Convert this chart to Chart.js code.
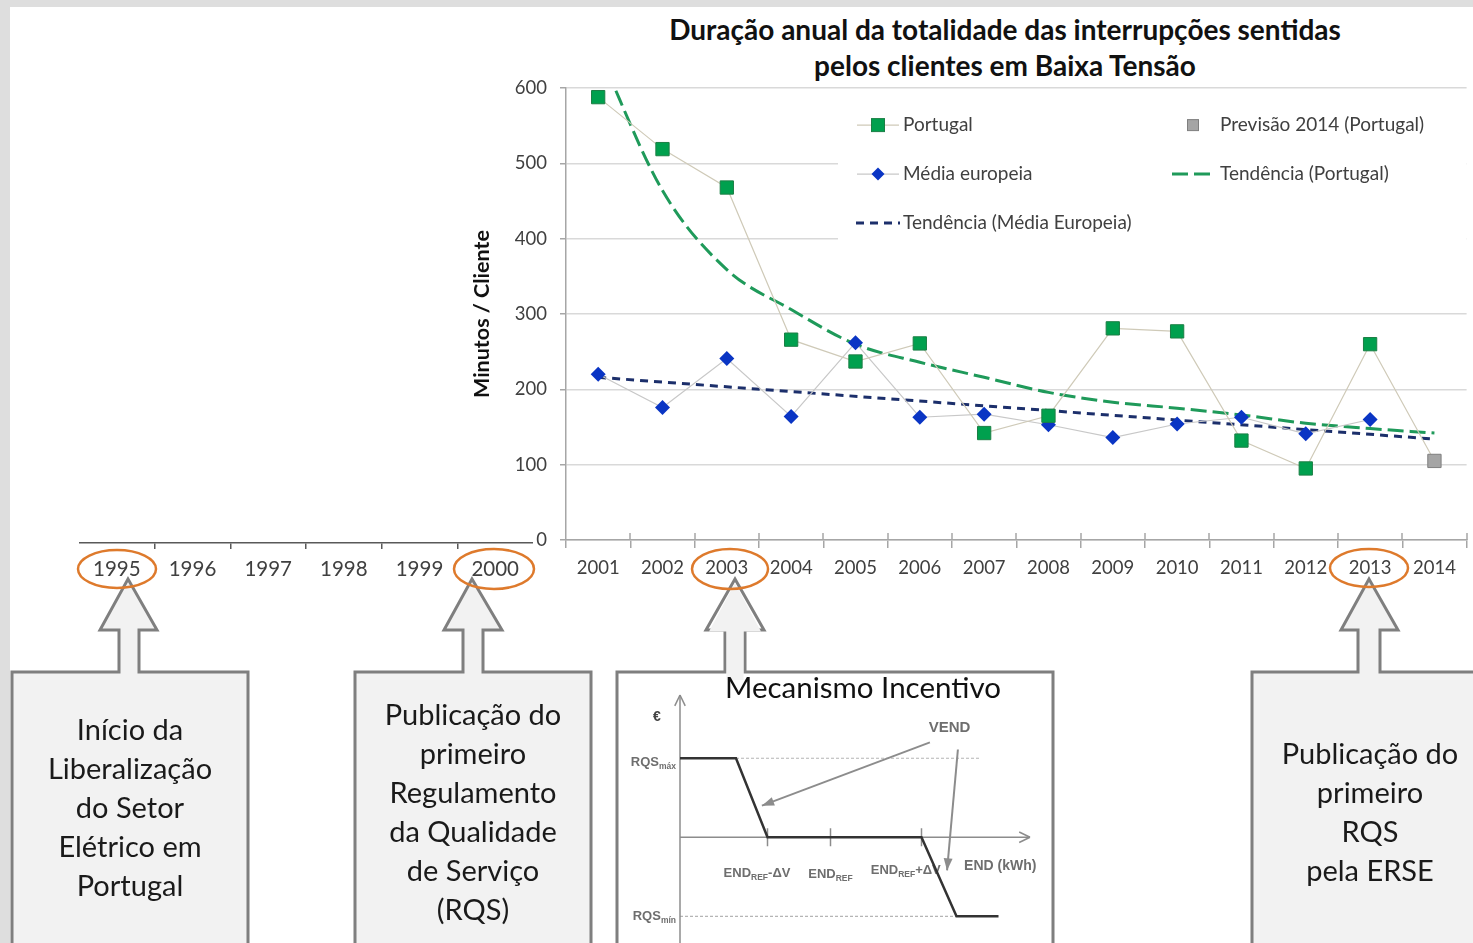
<!DOCTYPE html>
<html>
<head>
<meta charset="utf-8">
<script src="https://cdn.jsdelivr.net/npm/chart.js@4.4.1/dist/chart.umd.min.js"></script>
<style>
  html, body { margin: 0; padding: 0; }
  body { width: 1473px; height: 943px; background: #dedede; position: relative; overflow: hidden; font-family: Lato, "Open Sans", sans-serif; }
  #panel { position: absolute; left: 10px; top: 7px; right: 0; bottom: 0; background: #fff; }
  canvas, svg { position: absolute; }
  .title { position: absolute; left: 605px; top: 11px; width: 800px; text-align: center; font-weight: bold; font-size: 28px; line-height: 36px; color: #111; }
  .boxText { position: absolute; text-align: center; font-size: 29px; line-height: 39px; color: #1a1a1a; }
  .boxTitle { position: absolute; left: 630px; top: 669px; width: 466px; text-align: center; font-size: 29.5px; line-height: 36px; color: #111; }
</style>
</head>
<body>
<div id="panel"></div>

<svg id="callouts" width="1473" height="943" style="left:0;top:0"></svg>

<div class="title">Duração anual da totalidade das interrupções sentidas<br>pelos clientes em Baixa Tensão</div>

<canvas id="mainChart" width="1017" height="536" style="left:460px;top:64px"></canvas>
<canvas id="timelineChart" width="454" height="100" style="left:79px;top:500px"></canvas>
<canvas id="incentiveChart" width="430" height="269" style="left:620px;top:674px"></canvas>

<svg id="marks" width="1473" height="943" style="left:0;top:0;pointer-events:none"></svg>

<div class="boxText" style="left:12px;top:709px;width:236px">Início da<br>Liberalização<br>do Setor<br>Elétrico em<br>Portugal</div>
<div class="boxText" style="left:355px;top:694px;width:236px">Publicação do<br>primeiro<br>Regulamento<br>da Qualidade<br>de Serviço<br>(RQS)</div>
<div class="boxTitle">Mecanismo Incentivo</div>
<div class="boxText" style="left:1252px;top:733px;width:236px">Publicação do<br>primeiro<br>RQS<br>pela ERSE</div>

<script>
// ---- data ----
const years = ['2001', '2002', '2003', '2004', '2005', '2006', '2007', '2008', '2009', '2010', '2011', '2012', '2013', '2014'];
const portugal = [588, 519, 468, 266, 237, 261, 142, 165, 281, 277, 132, 95, 260];
const previsao2014 = 105;
const mediaEuropeia = [220, 176, 241, 164, 262, 163, 167, 153, 136, 154, 163, 141, 160, null];
const tendenciaPortugal = [650, 464, 359, 306, 260, 236, 216, 196, 183, 175, 166, 155, 148, 142];
const tendenciaEuropa = [216, null, null, null, null, null, null, null, null, null, null, null, null, 134];
const yTicks = [0, 100, 200, 300, 400, 500, 600];

const timelineYears = ['1995', '1996', '1997', '1998', '1999', '2000'];

// incentive mechanism sketch (diagram units)
const incentiveX = [0, 16, 25, 69, 79, 91];
const incentiveY = [1, 1, 0, 0, -1, -1];
const incentiveTicks = [25, 43, 69];
const rqsMaxGuide = [16, 86];
const rqsMinGuide = [0, 79];

const GREEN = '#00a04e';
const BLUE = '#0a35c4';
const FONT = 'Lato, "Open Sans", sans-serif';
const SKETCH_FONT = '"Liberation Sans", Arial, sans-serif';

// ---- callout boxes with block arrows ----
function calloutPath(l, r, top, bottom, sl, sr, hl, hr, hb, tx, ty) {
  return `M${l},${bottom} L${l},${top} L${sl},${top} L${sl},${hb} L${hl},${hb} L${tx},${ty} L${hr},${hb} L${sr},${hb} L${sr},${top} L${r},${top} L${r},${bottom}`;
}
const callouts = [
  { l: 12, r: 248, sl: 119, sr: 139, hl: 100, hr: 157, tx: 128, fill: '#f2f2f2' },
  { l: 355, r: 591, sl: 463, sr: 483, hl: 444, hr: 502, tx: 472, fill: '#f2f2f2' },
  { l: 617, r: 1053, sl: 725, sr: 745, hl: 706, hr: 764, tx: 735, fill: '#ffffff' },
  { l: 1252, r: 1490, sl: 1358, sr: 1380, hl: 1341, hr: 1398, tx: 1369, fill: '#f2f2f2' }
];
let svg = '';
callouts.forEach(c => {
  svg += `<path d="${calloutPath(c.l, c.r, 672, 965, c.sl, c.sr, c.hl, c.hr, 630, c.tx, 579)}" fill="${c.fill}" stroke="#7f7f7f" stroke-width="3" stroke-linejoin="miter"/>`;
  if (c.fill !== '#f2f2f2') {
    svg += `<path d="M${c.sl + 1.5},680 L${c.sl + 1.5},${631.5} L${c.hl + 3},${631.5} L${c.tx},${583} L${c.hr - 3},${631.5} L${c.sr - 1.5},${631.5} L${c.sr - 1.5},680 Z" fill="#f2f2f2"/>`;
  }
});
document.getElementById('callouts').innerHTML = svg;

// orange ellipses round the highlighted years
const highlights = [[117, 569, 39, 19], [494, 569, 40, 20], [730, 569, 38, 20], [1369, 568, 39, 19]];
document.getElementById('marks').innerHTML = highlights.map(h =>
  `<ellipse cx="${h[0]}" cy="${h[1]}" rx="${h[2]}" ry="${h[3]}" fill="none" stroke="#de7a2c" stroke-width="2.5"/>`).join('');

// ---- main chart ----
const legendPlugin = {
  id: 'sideLegend',
  beforeDatasetsDraw(chart) {
    const { ctx, chartArea } = chart;
    ctx.save();
    ctx.fillStyle = '#fff';
    ctx.fillRect(chartArea.left + 272, chartArea.top + 9, chartArea.width - 272, 150);
    ctx.restore();
  },
  afterDraw(chart) {
    const { ctx, chartArea, scales } = chart;
    const L = chartArea.left, T = chartArea.top;
    ctx.save();

    // short tick stubs above the category axis
    const xs = scales.x, step = xs.width / years.length;
    ctx.strokeStyle = '#a6a6a6';
    ctx.lineWidth = 1.5;
    for (let i = 1; i <= years.length; i++) {
      const px = Math.round(xs.left + i * step);
      ctx.beginPath(); ctx.moveTo(px, xs.top - 7); ctx.lineTo(px, xs.top); ctx.stroke();
    }

    ctx.font = '19px ' + FONT;
    ctx.fillStyle = '#404040';
    ctx.textBaseline = 'middle';

    function seg(x1, x2, y, color, width, dash) {
      ctx.save();
      ctx.strokeStyle = color; ctx.lineWidth = width; ctx.setLineDash(dash || []);
      ctx.beginPath(); ctx.moveTo(x1, y); ctx.lineTo(x2, y); ctx.stroke();
      ctx.restore();
    }
    function square(x, y, s, fill, stroke) {
      ctx.fillStyle = fill; ctx.fillRect(x - s / 2, y - s / 2, s, s);
      ctx.strokeStyle = stroke; ctx.lineWidth = 1; ctx.strokeRect(x - s / 2, y - s / 2, s, s);
    }
    function diamond(x, y, r, fill) {
      ctx.fillStyle = fill;
      ctx.beginPath(); ctx.moveTo(x - r, y); ctx.lineTo(x, y - r); ctx.lineTo(x + r, y); ctx.lineTo(x, y + r); ctx.closePath(); ctx.fill();
    }

    const c1 = L + 312, c2 = L + 627;
    const r1 = T + 37, r2 = T + 86, r3 = T + 135;

    seg(c1 - 21, c1 + 21, r1, '#cfcab8', 1.2);
    square(c1, r1, 13, GREEN, '#1b7f45');
    ctx.fillStyle = '#404040'; ctx.fillText('Portugal', L + 337, r1);

    square(c2, r1, 11, '#a5a5a5', '#7f7f7f');
    ctx.fillStyle = '#404040'; ctx.fillText('Previsão 2014 (Portugal)', L + 654, r1);

    seg(c1 - 21, c1 + 21, r2, '#c8c8c8', 1.2);
    diamond(c1, r2, 6.5, BLUE);
    ctx.fillStyle = '#404040'; ctx.fillText('Média europeia', L + 337, r2);

    seg(L + 606, L + 650, r2, '#1f9a5a', 3, [16, 6]);
    ctx.fillStyle = '#404040'; ctx.fillText('Tendência (Portugal)', L + 654, r2);

    seg(L + 290, L + 334, r3, '#1c2f6b', 3, [8, 6]);
    ctx.fillStyle = '#404040'; ctx.fillText('Tendência (Média Europeia)', L + 337, r3);

    ctx.restore();
  }
};

const lastIdx = portugal.length;

new Chart(document.getElementById('mainChart'), {
  type: 'line',
  data: {
    labels: years,
    datasets: [
      {
        label: 'Portugal',
        data: [...portugal, previsao2014],
        borderColor: '#cfcab8',
        borderWidth: 1.2,
        pointStyle: 'rect',
        pointRadius: 9.4,
        pointBackgroundColor: ctx => ctx.dataIndex === lastIdx ? '#a5a5a5' : GREEN,
        pointBorderColor: ctx => ctx.dataIndex === lastIdx ? '#7f7f7f' : '#1b7f45',
        pointBorderWidth: 1,
        order: 1,
        clip: false
      },
      {
        label: 'Média europeia',
        data: mediaEuropeia,
        borderColor: '#c8c8c8',
        borderWidth: 1.2,
        pointStyle: 'rectRot',
        pointRadius: 7.5,
        pointBackgroundColor: BLUE,
        pointBorderColor: BLUE,
        pointBorderWidth: 0,
        order: 1,
        clip: false
      },
      {
        label: 'Tendência (Portugal)',
        data: tendenciaPortugal,
        borderColor: '#1f9a5a',
        borderWidth: 3,
        borderDash: [16, 6],
        pointRadius: 0,
        cubicInterpolationMode: 'monotone',
        order: 2,
        clip: 0
      },
      {
        label: 'Tendência (Média Europeia)',
        data: tendenciaEuropa,
        borderColor: '#1c2f6b',
        borderWidth: 3,
        borderDash: [8, 6],
        pointRadius: 0,
        spanGaps: true,
        order: 2,
        clip: 0
      }
    ]
  },
  options: {
    responsive: false,
    animation: false,
    events: [],
    layout: { padding: { top: 7, right: 3, left: 0, bottom: 0 } },
    plugins: {
      legend: { display: false },
      tooltip: { enabled: false }
    },
    scales: {
      x: {
        offset: true,
        grid: { offset: true, drawOnChartArea: false, tickLength: 8, color: '#a6a6a6', lineWidth: 1.5 },
        border: { color: '#a6a6a6', width: 1.5 },
        ticks: { color: '#404040', font: { family: FONT, size: 18.5 }, padding: 9, maxRotation: 0, autoSkip: false },
        afterFit(scale) { scale.height = 60; }
      },
      y: {
        min: 0,
        max: 600,
        afterBuildTicks(scale) { scale.ticks = yTicks.map(v => ({ value: v })); },
        grid: { color: '#d9d9d9', lineWidth: 1.5, tickLength: 6, tickColor: '#a6a6a6' },
        border: { color: '#a6a6a6', width: 1.5 },
        ticks: { color: '#404040', font: { family: FONT, size: 18.5 }, padding: 13 },
        title: { display: true, text: 'Minutos / Cliente', color: '#111', font: { family: FONT, size: 21.5, weight: 'bold' }, padding: { top: 9, bottom: 0 } },
        afterFit(scale) { scale.width = 106; }
      }
    }
  },
  plugins: [legendPlugin]
});

// ---- 1995-2000 timeline ----
new Chart(document.getElementById('timelineChart'), {
  type: 'line',
  data: { labels: timelineYears, datasets: [] },
  options: {
    responsive: false,
    animation: false,
    events: [],
    layout: { padding: 0 },
    plugins: { legend: { display: false }, tooltip: { enabled: false } },
    scales: {
      x: {
        offset: true,
        grid: {
          offset: true, drawOnChartArea: false, tickLength: 6, lineWidth: 1.5,
          tickColor: c => (c.index > 0 && c.index < timelineYears.length) ? '#595959' : 'rgba(0,0,0,0)'
        },
        border: { color: '#595959', width: 1.5 },
        ticks: { color: '#404040', font: { family: FONT, size: 20.5 }, padding: 8, maxRotation: 0, autoSkip: false },
        afterFit(scale) { scale.height = 57; }
      },
      y: { display: false }
    }
  }
});

// ---- incentive mechanism sketch ----
const sketchPlugin = {
  id: 'sketch',
  beforeDatasetsDraw(chart) {
    const { ctx, scales: { x, y } } = chart;
    const px = v => x.getPixelForValue(v), py = v => y.getPixelForValue(v);
    ctx.save();

    function line(x1, y1, x2, y2) { ctx.beginPath(); ctx.moveTo(x1, y1); ctx.lineTo(x2, y2); ctx.stroke(); }
    function chevron(xt, yt, ang) {
      const a = 0.45, len = 12;
      line(xt, yt, xt - len * Math.cos(ang - a), yt - len * Math.sin(ang - a));
      line(xt, yt, xt - len * Math.cos(ang + a), yt - len * Math.sin(ang + a));
    }
    function arrow(x1, y1, x2, y2) {
      line(x1, y1, x2, y2);
      const ang = Math.atan2(y2 - y1, x2 - x1), len = 13, a = 0.35;
      ctx.beginPath();
      ctx.moveTo(x2, y2);
      ctx.lineTo(x2 - len * Math.cos(ang - a), y2 - len * Math.sin(ang - a));
      ctx.lineTo(x2 - len * Math.cos(ang + a), y2 - len * Math.sin(ang + a));
      ctx.closePath(); ctx.fill();
    }

    // dotted guide levels
    ctx.strokeStyle = '#b5b5b5'; ctx.lineWidth = 1.2; ctx.setLineDash([3, 2]);
    line(px(rqsMaxGuide[0]), py(1), px(rqsMaxGuide[1]), py(1));
    line(px(rqsMinGuide[0]), py(-1), px(rqsMinGuide[1]), py(-1));
    ctx.setLineDash([]);

    // axes
    ctx.strokeStyle = '#8c8c8c'; ctx.lineWidth = 1.5;
    line(px(0), py(y.min) + 3, px(0), py(y.max));
    chevron(px(0), py(y.max), -Math.PI / 2);
    line(px(0), py(0), px(x.max), py(0));
    chevron(px(x.max), py(0), 0);
    incentiveTicks.forEach(t => line(px(t), py(0) - 9, px(t), py(0) + 9));

    // labels
    ctx.fillStyle = '#6e6e6e';
    ctx.textBaseline = 'middle';
    function sub(main, small, extra, cx, cy, align) {
      ctx.font = 'bold 13px ' + SKETCH_FONT;
      const w1 = ctx.measureText(main).width;
      ctx.font = 'bold 8.5px ' + SKETCH_FONT;
      const w2 = ctx.measureText(small).width;
      ctx.font = 'bold 13px ' + SKETCH_FONT;
      const w3 = extra ? ctx.measureText(extra).width : 0;
      const total = w1 + w2 + w3;
      const sx = align === 'right' ? cx - total : cx - total / 2;
      ctx.textAlign = 'left';
      ctx.fillText(main, sx, cy);
      ctx.font = 'bold 8.5px ' + SKETCH_FONT;
      ctx.fillText(small, sx + w1, cy + 4);
      if (extra) { ctx.font = 'bold 13px ' + SKETCH_FONT; ctx.fillText(extra, sx + w1 + w2, cy); }
    }
    ctx.font = 'bold 14px ' + SKETCH_FONT;
    ctx.textAlign = 'center';
    ctx.fillStyle = '#444';
    ctx.fillText('€', px(0) - 23, py(y.max) + 22);
    ctx.fillStyle = '#6e6e6e';
    sub('RQS', 'máx', '', px(0) - 4, py(1) + 4, 'right');
    sub('RQS', 'mín', '', px(0) - 4, py(-1), 'right');
    sub('END', 'REF', '-ΔV', px(22), py(0) + 36, 'center');
    sub('END', 'REF', '', px(43), py(0) + 37, 'center');
    sub('END', 'REF', '+ΔV', px(64.5), py(0) + 33, 'center');
    ctx.font = 'bold 14px ' + SKETCH_FONT;
    ctx.textAlign = 'center';
    ctx.fillText('END (kWh)', px(91.5), py(0) + 29);
    ctx.font = 'bold 15px ' + SKETCH_FONT;
    ctx.fillText('VEND', px(77), py(1.38));

    // VEND pointers
    ctx.strokeStyle = '#8c8c8c'; ctx.fillStyle = '#8c8c8c'; ctx.lineWidth = 2;
    arrow(px(71.4), py(1.2), px(23.4), py(0.4));
    arrow(px(79.4), py(1.11), px(76.3), py(-0.42));
    ctx.restore();
  }
};

new Chart(document.getElementById('incentiveChart'), {
  type: 'scatter',
  data: {
    datasets: [{
      data: incentiveX.map((v, i) => ({ x: v, y: incentiveY[i] })),
      showLine: true,
      borderColor: '#333',
      borderWidth: 2.5,
      pointRadius: 0,
      clip: false
    }]
  },
  options: {
    responsive: false,
    animation: false,
    events: [],
    layout: { padding: { left: 60, right: 20, top: 21, bottom: 3 } },
    plugins: { legend: { display: false }, tooltip: { enabled: false } },
    scales: {
      x: { type: 'linear', min: 0, max: 100, display: false },
      y: { type: 'linear', min: -1.3, max: 1.8, display: false }
    }
  },
  plugins: [sketchPlugin]
});
</script>
</body>
</html>
